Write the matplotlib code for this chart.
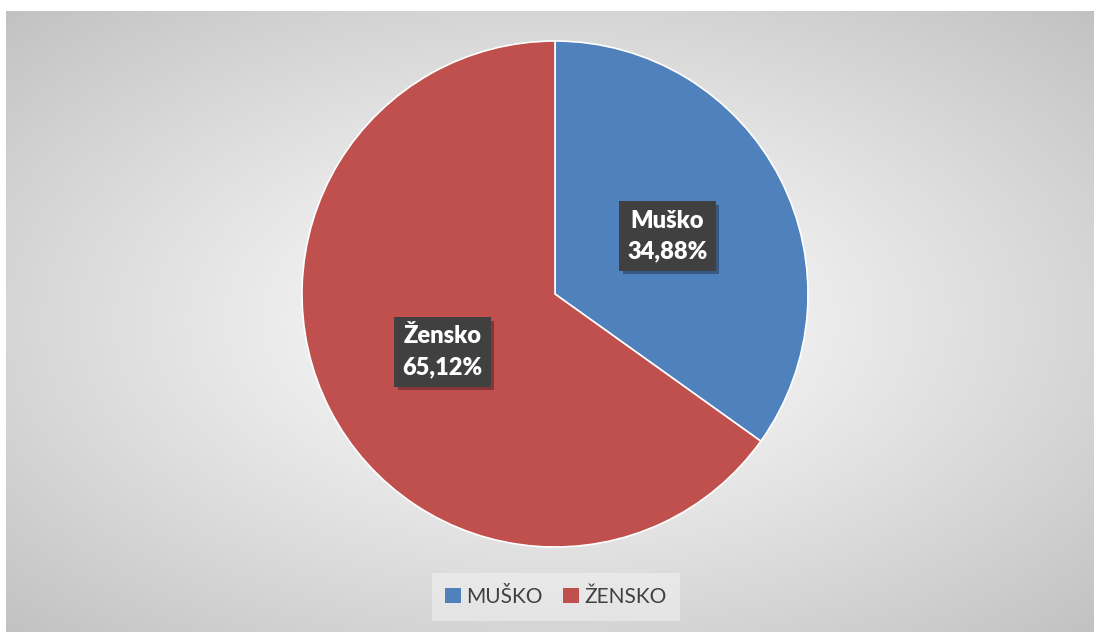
import matplotlib
matplotlib.use('Agg')
import matplotlib.pyplot as plt
import matplotlib.patheffects as pe
import numpy as np
from matplotlib.patches import Patch

# Podaci
kategorije = ['Muško', 'Žensko']
legenda = ['MUŠKO', 'ŽENSKO']
postoci = [34.88, 65.12]
boje = ['#4F81BD', '#C0504D']

W, H = 1094, 632
fig = plt.figure(figsize=(W / 100, H / 100), dpi=100)
fig.patch.set_facecolor('white')

# Pozadina: radijalni gradijent (bijelo u sredini, sivo prema rubovima)
bg = fig.add_axes([6 / W, 0, 1 - 6 / W, 1 - 11 / H])
bg.set_axis_off()
yy, xx = np.mgrid[0:1:300j, 0:1:500j]
d = np.sqrt(((xx - 0.5) / 0.5) ** 2 + ((yy - 0.5) / 0.5) ** 2) / np.sqrt(2)
val = 1.0 - 0.24 * np.clip(d, 0, 1) ** 1.1
bg.imshow(np.dstack([val, val, val]), aspect='auto', extent=[0, 1, 0, 1],
          interpolation='bicubic')

# Pita
r_px = 253
cx, cy = 555, H - 294
ax = fig.add_axes([(cx - r_px) / W, (cy - r_px) / H, 2 * r_px / W, 2 * r_px / H])
ax.set_axis_off()

def fmt(p):
    i = 0 if abs(p - postoci[0]) < 0.01 else 1
    return f"{kategorije[i]}\n{p:.2f}%".replace('.', ',')

wedges, texts, autotexts = ax.pie(
    postoci, colors=boje, startangle=90, counterclock=False,
    autopct=fmt, pctdistance=0.5, radius=1.0,
    wedgeprops=dict(edgecolor='white', linewidth=1.2),
    textprops=dict(color='white', fontsize=17, fontweight='heavy',
                   family=['Lato', 'DejaVu Sans'], linespacing=1.5))
ax.set_xlim(-1, 1)
ax.set_ylim(-1, 1)
ax.set_aspect('equal')

for t in autotexts:
    t.set_ha('center')
    t.set_va('center')
    t.set_bbox(dict(boxstyle='square,pad=0.35', facecolor='#404040',
                    edgecolor='none'))
    t.get_bbox_patch().set_path_effects([
        pe.SimplePatchShadow(offset=(2.5, -2.5), shadow_rgbFace='#000000', alpha=0.3),
        pe.Normal()])

# Legenda
handles = [Patch(facecolor=c, edgecolor='none') for c in boje]
leg = fig.legend(handles, legenda, loc='center', bbox_to_anchor=(556 / W, 1 - 597 / H),
                 ncol=2, frameon=True, handlelength=0.75, handleheight=0.75,
                 handletextpad=0.25, columnspacing=1.0, borderpad=0.35,
                 prop=dict(family=['Lato', 'DejaVu Sans'], size=15))
leg.get_frame().set_facecolor('#f7f7f7')
leg.get_frame().set_edgecolor('none')
leg.get_frame().set_alpha(0.45)
leg.get_frame().set_boxstyle('square')
for t in leg.get_texts():
    t.set_color('#404040')

fig.savefig('out.png', dpi=100)
